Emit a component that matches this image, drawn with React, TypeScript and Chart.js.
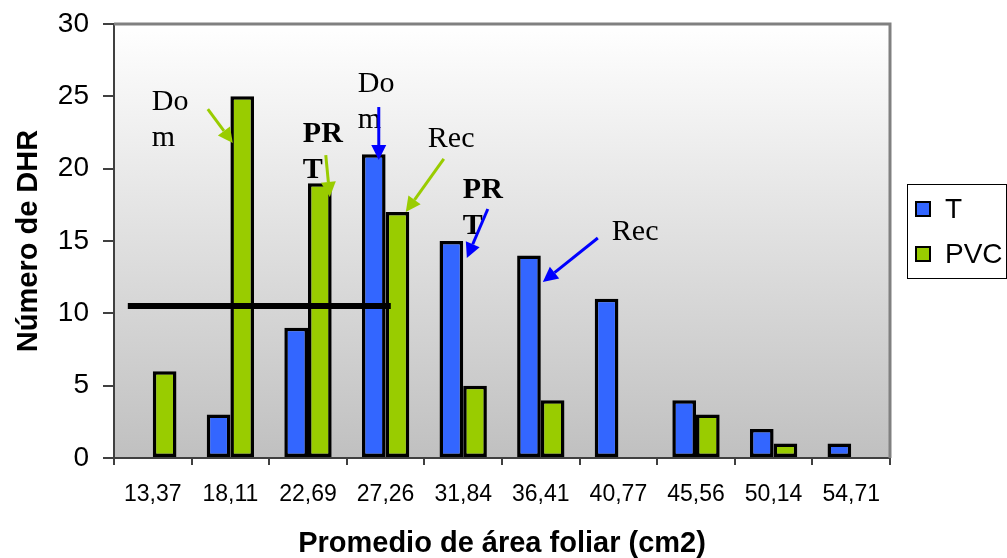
import React, { useEffect, useRef } from "react";
import { Chart, registerables } from "chart.js";

Chart.register(...registerables);

// ---- data ----
const categories = ["13,37", "18,11", "22,69", "27,26", "31,84", "36,41", "40,77", "45,56", "50,14", "54,71"];
const seriesT = [0, 3, 9, 21, 15, 14, 11, 4, 2, 1];
const seriesPVC = [6, 25, 19, 17, 5, 4, 0, 3, 1, 0];
const seriesNames = ["T", "PVC"];
const yMin = 0;
const yMax = 30;
const yStep = 5;
const xTitle = "Promedio de área foliar (cm2)";
const yTitle = "Número de DHR";

// annotation texts: [category position, value] of the first baseline
const noteTexts = [
  { lines: ["Do", "m"], at: [-0.013, 24.05], bold: false },
  { lines: ["PR", "T"], at: [1.933, 21.84], bold: true },
  { lines: ["Do", "m"], at: [2.642, 25.3], bold: false },
  { lines: ["Rec"], at: [3.544, 21.5], bold: false },
  { lines: ["PR", "T"], at: [3.995, 17.97], bold: true },
  { lines: ["Rec"], at: [5.915, 15.07], bold: false },
];
// annotation arrows: from / to in [category position, value], series colour
const noteArrows = [
  { from: [0.709, 24.12], to: [1.031, 21.77], series: 1 },
  { from: [2.229, 20.94], to: [2.281, 18.04], series: 1 },
  { from: [2.912, 24.26], to: [2.912, 20.6], series: 0 },
  { from: [3.75, 20.67], to: [3.26, 17.0], series: 1 },
  { from: [4.317, 17.21], to: [4.047, 13.82], series: 0 },
  { from: [5.735, 15.21], to: [5.026, 12.17], series: 0 },
];
// black horizontal reference line
const refLineValue = 10.5;
const refLineFrom = -0.322;
const refLineTo = 3.067;

// ---- styles ----
const barColors = ["#3366FF", "#99CC00"];
const arrowColors = ["#0000FF", "#99CC00"];
const SANS = "'Liberation Sans', Arial, sans-serif";
const SERIF = "'Liberation Serif', 'Times New Roman', serif";

const backgroundPlugin = {
  id: "bgGradient",
  beforeDraw(chart: any) {
    const { ctx, chartArea } = chart;
    const { left, top, right, bottom } = chartArea;
    const g = ctx.createLinearGradient(0, top, 0, bottom);
    g.addColorStop(0, "#FFFFFF");
    g.addColorStop(1, "#C0C0C0");
    ctx.save();
    ctx.fillStyle = g;
    ctx.fillRect(left, top, right - left, bottom - top);
    ctx.restore();
  },
  afterDraw(chart: any) {
    const { ctx, chartArea } = chart;
    const { left, top, right, bottom } = chartArea;
    ctx.save();
    ctx.strokeStyle = "#808080";
    ctx.lineWidth = 3;
    ctx.beginPath();
    ctx.moveTo(left, top);
    ctx.lineTo(right, top);
    ctx.lineTo(right, bottom);
    ctx.stroke();
    ctx.restore();
  },
};

function drawArrow(ctx: any, x1: number, y1: number, x2: number, y2: number, color: string) {
  const ang = Math.atan2(y2 - y1, x2 - x1);
  const head = 15;
  const half = 7.5;
  const bx = x2 - head * Math.cos(ang);
  const by = y2 - head * Math.sin(ang);
  ctx.save();
  ctx.strokeStyle = color;
  ctx.fillStyle = color;
  ctx.lineWidth = 3;
  ctx.beginPath();
  ctx.moveTo(x1, y1);
  ctx.lineTo(bx, by);
  ctx.stroke();
  ctx.beginPath();
  ctx.moveTo(x2, y2);
  ctx.lineTo(bx + half * Math.sin(ang), by - half * Math.cos(ang));
  ctx.lineTo(bx - half * Math.sin(ang), by + half * Math.cos(ang));
  ctx.closePath();
  ctx.fill();
  ctx.restore();
}

const annotationPlugin = {
  id: "notes",
  afterDatasetsDraw(chart: any) {
    const { ctx } = chart;
    const xs = chart.scales.x;
    const ys = chart.scales.y;
    const px = (i: number) => xs.getPixelForValue(i);
    const py = (v: number) => ys.getPixelForValue(v);
    ctx.save();
    // reference line
    ctx.strokeStyle = "#000000";
    ctx.lineWidth = 6;
    ctx.beginPath();
    ctx.moveTo(px(refLineFrom), py(refLineValue));
    ctx.lineTo(px(refLineTo), py(refLineValue));
    ctx.stroke();
    // texts
    ctx.fillStyle = "#000000";
    ctx.textAlign = "left";
    ctx.textBaseline = "alphabetic";
    noteTexts.forEach((n) => {
      ctx.font = `${n.bold ? "bold " : ""}30px ${SERIF}`;
      n.lines.forEach((line, k) => {
        ctx.fillText(line, px(n.at[0]), py(n.at[1]) + k * 36);
      });
    });
    ctx.restore();
    noteArrows.forEach((a) => {
      drawArrow(ctx, px(a.from[0]), py(a.from[1]), px(a.to[0]), py(a.to[1]), arrowColors[a.series]);
    });
  },
};

const legendPlugin = {
  id: "boxLegend",
  afterDraw(chart: any) {
    const { ctx, chartArea } = chart;
    const x0 = chartArea.right + 17;
    const y0 = 184;
    ctx.save();
    ctx.strokeStyle = "#000000";
    ctx.lineWidth = 1;
    ctx.strokeRect(x0 + 0.5, y0 + 0.5, 99, 94);
    chart.data.datasets.forEach((ds: any, i: number) => {
      const cy = y0 + 25 + i * 45;
      ctx.fillStyle = ds.backgroundColor;
      ctx.fillRect(x0 + 9, cy - 7, 14, 14);
      ctx.strokeStyle = "#000000";
      ctx.lineWidth = 2;
      ctx.strokeRect(x0 + 9, cy - 7, 14, 14);
      ctx.fillStyle = "#000000";
      ctx.font = `28px ${SANS}`;
      ctx.textAlign = "left";
      ctx.textBaseline = "middle";
      ctx.fillText(ds.label, x0 + 38, cy + 1);
    });
    ctx.restore();
  },
};

export default function App() {
  const ref = useRef<HTMLCanvasElement>(null);
  useEffect(() => {
    if (!ref.current) return;
    const chart = new Chart(ref.current, {
      type: "bar",
      data: {
        labels: categories,
        datasets: [
          {
            label: seriesNames[0],
            data: seriesT,
            backgroundColor: barColors[0],
            borderColor: "#000000",
            borderWidth: 3.5,
            borderSkipped: false,
          },
          {
            label: seriesNames[1],
            data: seriesPVC,
            backgroundColor: barColors[1],
            borderColor: "#000000",
            borderWidth: 3.5,
            borderSkipped: false,
          },
        ],
      },
      options: {
        animation: false,
        responsive: true,
        maintainAspectRatio: false,
        datasets: { bar: { categoryPercentage: 0.61, barPercentage: 1 } },
        layout: { padding: { left: 0, top: 24, right: 117, bottom: 0 } },
        plugins: { legend: { display: false }, tooltip: { enabled: false } },
        scales: {
          x: {
            afterFit: (s: any) => { s.height = 100; s.paddingLeft = 0; s.paddingRight = 0; },
            grid: { drawOnChartArea: false, drawTicks: true, tickLength: 7, color: "#404040", lineWidth: 2 },
            border: { color: "#404040", width: 2 },
            ticks: { color: "#000000", font: { family: SANS, size: 23 }, padding: 16, maxRotation: 0, autoSkip: false },
            title: {
              display: true,
              text: xTitle,
              color: "#000000",
              font: { family: SANS, size: 29, weight: "bold", lineHeight: 1 },
              padding: { top: 0, bottom: 0 },
            },
          },
          y: {
            min: yMin,
            max: yMax,
            afterFit: (s: any) => { s.width = 114; s.paddingTop = 0; s.paddingBottom = 0; },
            grid: { drawOnChartArea: false, drawTicks: true, tickLength: 11, color: "#404040", lineWidth: 2 },
            border: { color: "#404040", width: 2 },
            ticks: { stepSize: yStep, color: "#000000", font: { family: SANS, size: 28 }, padding: 14 },
            title: {
              display: true,
              text: yTitle,
              color: "#000000",
              font: { family: SANS, size: 29, weight: "bold", lineHeight: 1 },
              padding: { top: 14, bottom: 0 },
            },
          },
        },
      },
      plugins: [backgroundPlugin, annotationPlugin, legendPlugin],
    });
    return () => chart.destroy();
  }, []);
  return (
    <div style={{ position: "fixed", left: 0, top: 0, width: 1007, height: 558, background: "#FFFFFF" }}>
      <canvas ref={ref} />
    </div>
  );
}
